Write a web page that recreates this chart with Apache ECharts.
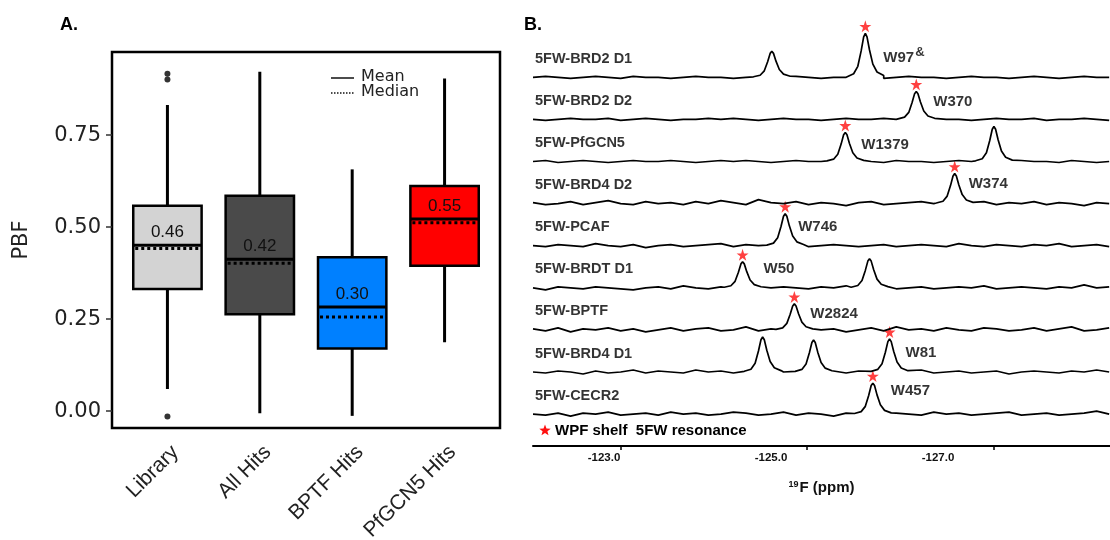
<!DOCTYPE html>
<html><head><meta charset="utf-8">
<script src="https://cdn.jsdelivr.net/npm/echarts@6/dist/echarts.min.js"></script>
<style>html,body{margin:0;padding:0;background:#fff}#c{width:1110px;height:540px}</style>
</head><body><div id="c"></div>
<script>
// ---------- Panel A data ----------
const categories = ['Library', 'All Hits', 'BPTF Hits', 'PfGCN5 Hits'];
const whiskerLow = [0.060, -0.006, -0.013, 0.187];
const q1 = [0.332, 0.263, 0.170, 0.395];
const q3 = [0.558, 0.585, 0.418, 0.612];
const whiskerHigh = [0.832, 0.922, 0.657, 0.904];
const means = [0.451, 0.413, 0.283, 0.522];
const medians = [0.442, 0.402, 0.256, 0.512];
const meanLabels = ['0.46', '0.42', '0.30', '0.55'];
const outliers = [[1, 0.917], [1, 0.901], [1, -0.015]];
const yTicksA = [0, 0.25, 0.5, 0.75];

// ---------- Panel B data ----------
const traceNames = ['5FW-BRD2 D1', '5FW-BRD2 D2', '5FW-PfGCN5', '5FW-BRD4 D2', '5FW-PCAF',
  '5FW-BRDT D1', '5FW-BPTF', '5FW-BRD4 D1', '5FW-CECR2'];
const baselineStart = -122.15, baselineStep = -0.15;   // ppm sampling of baseline readings
const baselineNoise = [
  [0,1,0,-1,0,1,0,-1,1,0, 0,-1,0,1,0,0,-1,0,1,0, 0,1,0,-1,0,0,1,0,-1,0, 1,0,0,-1,0,1,0,0,-1,0, 1,0,-1,0,1,0,0],
  [0,-1,0,1,0,0,1,-1,0,1, 0,-1,0,0,1,0,1,0,-1,0, 1,0,0,-1,0,1,0,0,1,0, -1,0,1,0,0,-1,0,1,0,0, 1,-1,0,0,1,0,-1],
  [0,1,-1,0,1,0,-1,0,1,0, 0,1,0,-1,0,1,0,1,0,-1, 0,1,0,0,-1,0,1,0,-1,1, 0,0,-1,0,1,0,1,-1,0,1, 0,0,-1,1,0,-1,0],
  [1,-1,0,2,-1,1,3,0,-1,2, 0,1,-1,2,0,3,1,-1,4,1, 0,2,-1,1,0,-2,1,2,-1,0, 1,2,0,-1,1,0,2,-1,1,0, 2,-1,1,0,-2,1,0],
  [0,-1,1,0,-1,2,0,-1,1,-2, 0,1,-1,0,1,2,-1,1,0,-1, 1,0,-1,0,1,0,-1,0,1,-1, 0,1,0,-1,2,0,-1,1,0,-1, 1,0,2,-1,0,1,-1],
  [0,-2,1,0,-1,1,0,-1,-2,0, 1,-1,2,0,-1,1,0,1,-1,0, 1,0,-1,1,0,2,-1,0,1,-1, 0,1,-1,0,1,0,2,-1,0,1, 0,-1,1,0,3,0,1],
  [1,-1,2,-2,1,0,2,-1,1,-2, 0,2,-1,1,2,-1,0,3,-1,1, 0,-1,2,0,1,-2,0,2,-1,3, 0,1,-1,2,0,-1,2,1,-1,0, 2,-1,1,3,-1,0,2],
  [0,-1,1,0,-2,1,-1,0,2,-1, 1,0,-1,2,0,1,-1,0,1,-1, 0,1,-1,0,2,-1,1,0,-1,1, 0,2,-1,0,1,-1,0,1,-2,0, 1,0,-1,1,0,2,0],
  [0,-1,1,-2,1,0,2,-1,0,1, -1,2,0,1,-1,0,2,1,-1,0, 2,-1,1,0,-2,1,0,2,-1,1, 0,-1,2,0,1,-1,0,1,2,-1, 0,1,-1,0,1,3,0]
];
// peaks: [ppm, height]
const peaks = [
  [[-125.01, 26], [-126.13, 44]],
  [[-126.74, 28]],
  [[-125.89, 29], [-127.67, 35]],
  [[-127.20, 30]],
  [[-125.17, 32]],
  [[-124.66, 26], [-126.18, 29]],
  [[-125.28, 26]],
  [[-124.90, 35], [-125.51, 32], [-126.42, 33]],
  [[-126.22, 31]]
];
const shelfPeakIndex = [1, 0, 0, 0, 0, 0, 0, 2, 0];
const peakLabels = ['W97', 'W370', 'W1379', 'W374', 'W746', 'W50', 'W2824', 'W81', 'W457'];
// line shape of one resonance: [ppm offset, fraction of height]
const peakShape = [[0.22,0.02],[0.14,0.08],[0.09,0.25],[0.05,0.6],[0.02,0.92],[0,1],
  [-0.02,0.92],[-0.05,0.62],[-0.09,0.3],[-0.14,0.12],[-0.22,0.04]];
const xLabelsB = [-123, -125, -127];
const xTickMarksB = [-123.2, -125.43, -127.67];

// ---------- layout / style ----------
const boxColors = ['#d3d3d3', '#4a4a4a', '#0080ff', '#ff0000'];
const STAR = 'path://M50,0 L61.8,35.1 L98.9,35.1 L68.9,56.8 L80.3,91.9 L50,70.2 L19.7,91.9 L31.1,56.8 L1.1,35.1 L38.2,35.1 Z';
const firstBase = 368.7, baseSpacing = 42.1;
const traceOffset = i => firstBase - baseSpacing * i;
const labelOffsets = [[12, 32], [11, 17], [10, 19], [8, 17], [7, 20], [15, 14], [10, 17], [10, 21], [12, 15]];
const FONT = '"Liberation Sans", Arial, sans-serif';

function starPoints(cx, cy, r) {
  const pts = [];
  for (let k = 0; k < 10; k++) {
    const a = -Math.PI / 2 + k * Math.PI / 5;
    const rr = k % 2 === 0 ? r : r * 0.42;
    pts.push([cx + rr * Math.cos(a), cy + rr * Math.sin(a)]);
  }
  return pts;
}

const chart = echarts.init(document.getElementById('c'), null, {renderer: 'canvas'});

const series = [];

// Panel A boxes
series.push({
  type: 'custom', xAxisIndex: 0, yAxisIndex: 0, animation: false, clip: false,
  data: categories.map((c, i) => [i + 1, whiskerLow[i], q1[i], q3[i], whiskerHigh[i], means[i], medians[i]]),
  renderItem(params, api) {
    const i = params.dataIndex;
    const x = api.value(0);
    const lo = api.coord([x, api.value(1)]);
    const b1 = api.coord([x, api.value(2)]);
    const b3 = api.coord([x, api.value(3)]);
    const hi = api.coord([x, api.value(4)]);
    const mn = api.coord([x, api.value(5)]);
    const md = api.coord([x, api.value(6)]);
    const bottom = api.coord([x, -0.046])[1];
    const hw = api.size([0.74, 0])[0] / 2;
    const cx = lo[0];
    return {
      type: 'group', children: [
        {type: 'line', shape: {x1: cx, y1: hi[1], x2: cx, y2: lo[1]}, style: {stroke: '#000', lineWidth: 3}},
        {type: 'rect', shape: {x: cx - hw, y: b3[1], width: 2 * hw, height: b1[1] - b3[1]},
          style: {fill: boxColors[i], stroke: '#000', lineWidth: 2.5}},
        {type: 'line', shape: {x1: cx - hw, y1: mn[1], x2: cx + hw, y2: mn[1]}, style: {stroke: '#000', lineWidth: 3}},
        {type: 'line', shape: {x1: cx - hw + 2, y1: md[1], x2: cx + hw - 2, y2: md[1]},
          style: {stroke: '#000', lineWidth: 3, lineDash: [3, 3]}},
        {type: 'text', x: cx, y: mn[1] - 13,
          style: {text: meanLabels[i], fill: '#111', font: '17px ' + FONT, align: 'center', verticalAlign: 'middle'}},
        {type: 'text', x: cx + 8, y: bottom + 21, rotation: Math.PI / 4,
          style: {text: categories[i], fill: '#222', font: '21px ' + FONT, align: 'right', verticalAlign: 'middle'}}
      ]
    };
  }
});
series.push({
  type: 'scatter', xAxisIndex: 0, yAxisIndex: 0, data: outliers, symbolSize: 6,
  itemStyle: {color: '#000'}, animation: false, silent: true
});

// Panel B spectra
for (let t = 0; t < traceNames.length; t++) {
  const off = traceOffset(t);
  const pk = peaks[t];
  const pts = [];
  baselineNoise[t].forEach((v, k) => {
    const ppm = baselineStart + baselineStep * k;
    if (pk.every(p => Math.abs(ppm - p[0]) > 0.22)) pts.push([ppm, off + v]);
  });
  pk.forEach(p => peakShape.forEach(s => pts.push([p[0] + s[0], off + p[1] * s[1]])));
  pts.sort((a, b) => b[0] - a[0]);
  series.push({
    type: 'line', xAxisIndex: 1, yAxisIndex: 1, data: pts, showSymbol: false, smooth: false,
    lineStyle: {color: '#000', width: 1.7}, animation: false, silent: true
  });
}
// stars + residue labels
series.push({
  type: 'scatter', xAxisIndex: 1, yAxisIndex: 1, symbol: STAR, symbolSize: 12,
  itemStyle: {color: '#ff1010'}, animation: false, silent: true,
  data: traceNames.map((n, t) => {
    const p = peaks[t][shelfPeakIndex[t]];
    return {
      value: [p[0], traceOffset(t) + p[1] + 7],
      label: {
        show: true, position: 'right', distance: 0, offset: labelOffsets[t],
        formatter: t === 0 ? '{m|' + peakLabels[t] + '}{s|&}' : '{m|' + peakLabels[t] + '}',
        rich: {
          m: {fontSize: 15, fontWeight: 'bold', color: '#000', fontFamily: FONT},
          s: {fontSize: 13, fontWeight: 'bold', color: '#000', fontFamily: FONT, padding: [0, 0, 12, 1]}
        }
      }
    };
  })
});
// trace names
series.push({
  type: 'scatter', xAxisIndex: 1, yAxisIndex: 1, symbolSize: 0, animation: false, silent: true,
  data: traceNames.map((n, t) => ({
    value: [-122.15, traceOffset(t) + 18.5],
    label: {show: true, position: 'right', distance: 0, offset: [2, 0], formatter: n,
      fontSize: 14.5, fontWeight: 'bold', color: '#000', fontFamily: FONT}
  }))
});

const option = {
  backgroundColor: '#fff',
  animation: false,
  grid: [
    {left: 112, top: 52, width: 388, height: 376, show: true, borderColor: '#000', borderWidth: 2.5, backgroundColor: 'transparent'},
    {left: 533, top: 0, right: 0, height: 446}
  ],
  xAxis: [
    {type: 'value', gridIndex: 0, min: 0.4, max: 4.6,
      axisLine: {show: false}, axisTick: {show: false}, splitLine: {show: false}, axisLabel: {show: false}},
    {type: 'value', gridIndex: 1, min: -129.06, max: -122.15, inverse: true,
      axisLine: {onZero: false, lineStyle: {color: '#000', width: 2}},
      axisTick: {customValues: xTickMarksB, length: 4, lineStyle: {color: '#000', width: 1.5}},
      splitLine: {show: false},
      axisLabel: {customValues: xLabelsB, formatter: v => v.toFixed(1), fontSize: 11.5, fontWeight: 'bold',
        color: '#111', fontFamily: FONT, margin: 6},
      name: '{s|19}{b|F (ppm)}', nameLocation: 'middle', nameGap: 34,
      nameTextStyle: {rich: {
        s: {fontSize: 9, fontWeight: 'bold', color: '#111', padding: [0, 1, 7, 0], fontFamily: FONT},
        b: {fontSize: 15, fontWeight: 'bold', color: '#111', fontFamily: FONT}
      }}}
  ],
  yAxis: [
    {type: 'value', gridIndex: 0, min: -0.046, max: 0.976,
      axisLine: {show: false}, splitLine: {show: false},
      axisTick: {show: true, customValues: yTicksA, length: 6, lineStyle: {color: '#333', width: 1.5}},
      axisLabel: {customValues: yTicksA, formatter: v => v.toFixed(2), fontSize: 21, color: '#222',
        fontFamily: '"DejaVu Sans", sans-serif', margin: 11},
      name: 'PBF', nameLocation: 'middle', nameGap: 80, nameRotate: 90,
      nameTextStyle: {fontSize: 21, color: '#222', fontFamily: '"DejaVu Sans", sans-serif'}},
    {type: 'value', gridIndex: 1, min: 0, max: 446, show: false}
  ],
  graphic: [
    {type: 'text', x: 60, y: 25, style: {text: 'A.', font: 'bold 18px ' + FONT, fill: '#000', verticalAlign: 'middle'}},
    {type: 'text', x: 524, y: 25, style: {text: 'B.', font: 'bold 18px ' + FONT, fill: '#000', verticalAlign: 'middle'}},
    {type: 'line', shape: {x1: 331, y1: 78, x2: 354, y2: 78}, style: {stroke: '#111', lineWidth: 1.5}},
    {type: 'text', x: 361, y: 77, style: {text: 'Mean', font: '16px "DejaVu Sans", sans-serif', fill: '#222', verticalAlign: 'middle'}},
    {type: 'line', shape: {x1: 331, y1: 93, x2: 354, y2: 93}, style: {stroke: '#111', lineWidth: 1.5, lineDash: [1.5, 1.5]}},
    {type: 'text', x: 361, y: 92, style: {text: 'Median', font: '16px "DejaVu Sans", sans-serif', fill: '#222', verticalAlign: 'middle'}},
    {type: 'polygon', shape: {points: starPoints(545, 430.5, 6)}, style: {fill: '#ff1010'}},
    {type: 'text', x: 555, y: 431, style: {text: 'WPF shelf  5FW resonance', font: 'bold 15px ' + FONT, fill: '#000', verticalAlign: 'middle'}}
  ],
  series: series
};
chart.setOption(option);
</script>
</body></html>
